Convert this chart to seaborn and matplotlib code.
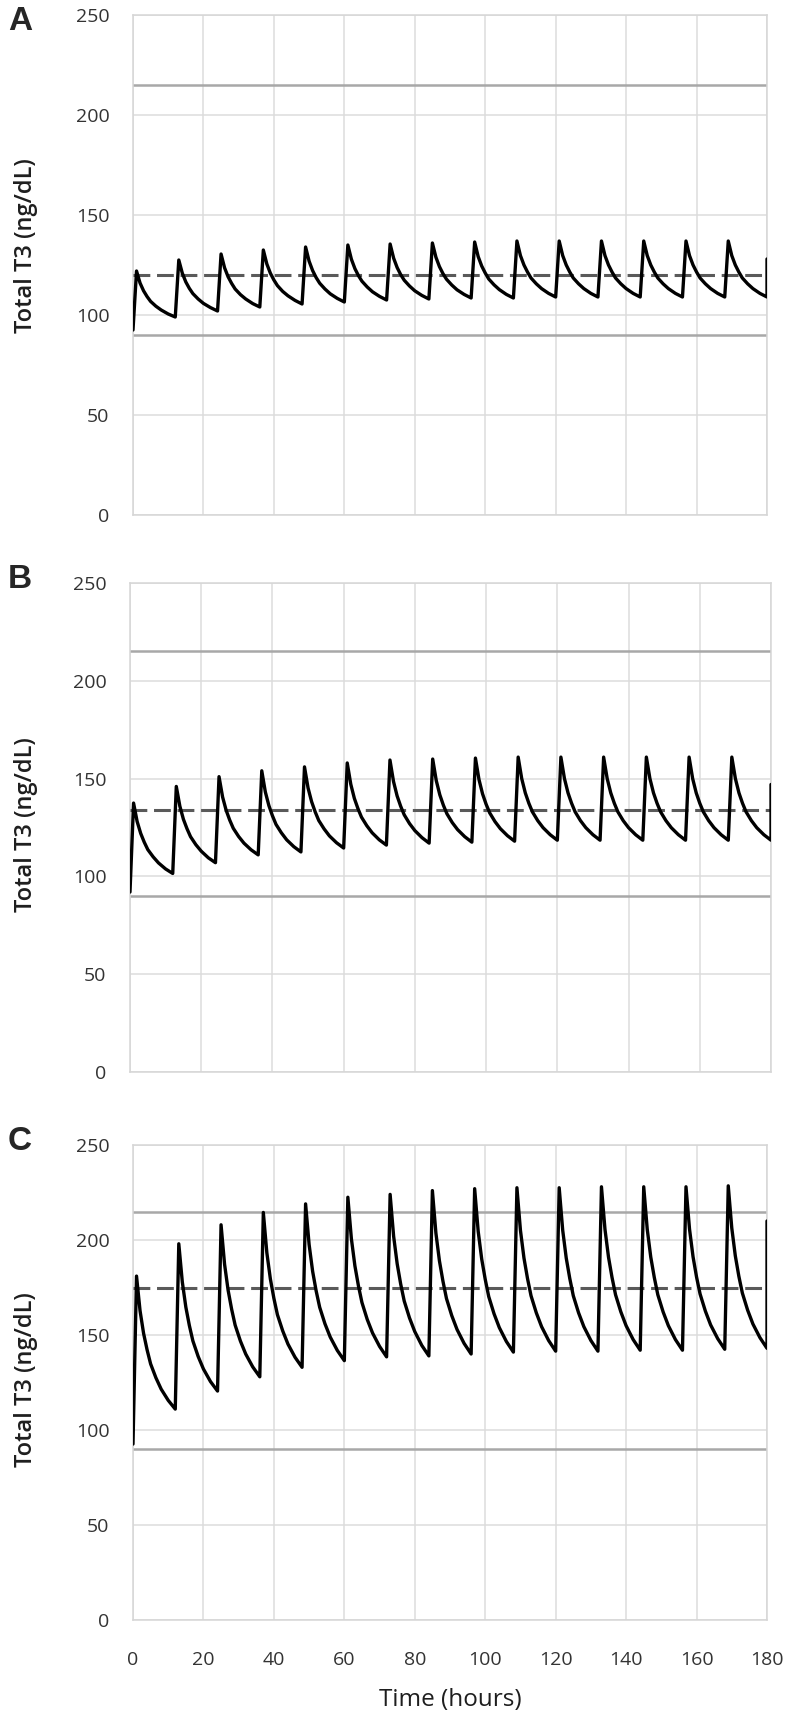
import pandas as pd
import matplotlib.pyplot as plt
import seaborn as sns

# dosing every 12 h; values sampled at these offsets (h) after each dose
dose_hours = [0, 12, 24, 36, 48, 60, 72, 84, 96, 108, 120, 132, 144, 156, 168]
sample_offsets = [0, 1, 2, 3, 4, 5, 6.5, 8, 10]
end_hour = 180

# Total T3 (ng/dL) per dosing cycle: [at dose, peak, +2h, +3h, +4h, +5h, +6.5h, +8h, +10h]
a_cycles = [
    [92.5, 122, 116, 112.1, 109.2, 106.8, 104.4, 102.5, 100.5],
    [99, 127.5, 120.9, 116.5, 113.3, 110.7, 108.0, 105.8, 103.7],
    [102, 130.5, 123.6, 119.1, 115.8, 113.0, 110.2, 108.0, 105.7],
    [104, 132.5, 125.5, 120.9, 117.5, 114.7, 111.8, 109.6, 107.3],
    [105.5, 134, 126.9, 122.2, 118.7, 115.9, 113.0, 110.6, 108.3],
    [106.5, 135, 127.9, 123.2, 119.7, 116.9, 114.0, 111.6, 109.3],
    [107.5, 135.5, 128.4, 123.7, 120.2, 117.4, 114.5, 112.1, 109.8],
    [108, 136, 128.9, 124.2, 120.7, 117.9, 115.0, 112.6, 110.3],
    [108.5, 136.5, 129.2, 124.5, 121.0, 118.0, 115.1, 112.7, 110.3],
    [108.5, 137, 129.7, 125.0, 121.5, 118.5, 115.6, 113.2, 110.8],
    [109, 137, 129.7, 125.0, 121.5, 118.5, 115.6, 113.2, 110.8],
    [109, 137, 129.7, 125.0, 121.5, 118.5, 115.6, 113.2, 110.8],
    [109, 137, 129.7, 125.0, 121.5, 118.5, 115.6, 113.2, 110.8],
    [109, 137, 129.7, 125.0, 121.5, 118.5, 115.6, 113.2, 110.8],
    [109, 137, 129.7, 125.0, 121.5, 118.5, 115.6, 113.2, 110.8],
]
a_end = [109, 128]

b_cycles = [
    [92, 137.5, 128.1, 122.0, 117.5, 113.7, 110.0, 106.9, 103.8],
    [101.5, 146, 135.9, 129.2, 124.4, 120.3, 116.2, 112.9, 109.5],
    [107, 151, 140.6, 133.8, 128.8, 124.6, 120.4, 117.0, 113.6],
    [111, 154, 143.2, 136.2, 131.0, 126.6, 122.3, 118.7, 115.2],
    [112.5, 156, 145.2, 138.2, 133.0, 128.6, 124.3, 120.7, 117.2],
    [114.5, 158, 147.1, 139.9, 134.7, 130.3, 125.9, 122.3, 118.7],
    [116, 159.5, 148.5, 141.2, 135.9, 131.5, 127.0, 123.4, 119.8],
    [117, 160, 149.0, 141.7, 136.4, 132.0, 127.5, 123.9, 120.3],
    [117.5, 160.5, 149.5, 142.2, 136.9, 132.5, 128.0, 124.4, 120.8],
    [118, 161, 150.0, 142.7, 137.4, 133.0, 128.5, 124.9, 121.3],
    [118.5, 161, 150.0, 142.7, 137.4, 133.0, 128.5, 124.9, 121.3],
    [118.5, 161, 150.0, 142.7, 137.4, 133.0, 128.5, 124.9, 121.3],
    [118.5, 161, 150.0, 142.7, 137.4, 133.0, 128.5, 124.9, 121.3],
    [118.5, 161, 150.0, 142.7, 137.4, 133.0, 128.5, 124.9, 121.3],
    [118.5, 161, 150.0, 142.7, 137.4, 133.0, 128.5, 124.9, 121.3],
]
b_end = [118.5, 147]

c_cycles = [
    [92.6, 181, 162.8, 150.9, 142.2, 134.8, 127.5, 121.5, 115.6],
    [111, 198, 177.9, 164.7, 155.0, 146.9, 138.7, 132.1, 125.5],
    [120.5, 208, 187.2, 173.6, 163.6, 155.2, 146.8, 140.0, 133.2],
    [128, 214.5, 193.3, 179.5, 169.3, 160.7, 152.2, 145.2, 138.3],
    [133, 219, 197.6, 183.5, 173.2, 164.6, 155.9, 148.9, 141.9],
    [136.5, 222.5, 200.7, 186.4, 175.9, 167.1, 158.2, 151.1, 144.0],
    [138.5, 224, 201.9, 187.5, 176.8, 167.9, 159.0, 151.8, 144.5],
    [139, 226, 203.6, 189.0, 178.3, 169.2, 160.2, 152.9, 145.6],
    [140, 227, 204.6, 190.0, 179.3, 170.2, 161.2, 153.9, 146.6],
    [141, 227.5, 205.1, 190.5, 179.8, 170.7, 161.7, 154.4, 147.1],
    [141.5, 227.5, 205.1, 190.5, 179.8, 170.7, 161.7, 154.4, 147.1],
    [141.5, 228, 205.6, 191.0, 180.3, 171.2, 162.2, 154.9, 147.6],
    [142, 228, 205.6, 191.0, 180.3, 171.2, 162.2, 154.9, 147.6],
    [142, 228, 205.8, 191.2, 180.5, 171.6, 162.6, 155.3, 148.1],
    [142.5, 228.5, 206.3, 191.7, 181.0, 172.1, 163.1, 155.8, 148.6],
]
c_end = [143, 210]

panel_labels = ['A', 'B', 'C']
target_levels = [120, 134, 175]   # dashed line
range_limits = [90, 215]          # solid gray reference lines
y_ticks = [0, 50, 100, 150, 200, 250]
x_ticks = [0, 20, 40, 60, 80, 100, 120, 140, 160, 180]


def to_frame(cycles, end_vals):
    rows = []
    for dose, vals in zip(dose_hours, cycles):
        for off, v in zip(sample_offsets, vals):
            rows.append((dose + off, v))
    for v in end_vals:
        rows.append((end_hour, v))
    return pd.DataFrame(rows, columns=['hours', 't3'])


frames = [to_frame(a_cycles, a_end), to_frame(b_cycles, b_end), to_frame(c_cycles, c_end)]

sns.set_style('white')
plt.rcParams['font.family'] = ['Open Sans', 'DejaVu Sans']

W, H = 792, 1720
fig = plt.figure(figsize=(W / 100, H / 100), dpi=100)

# axes boxes in pixels: left, top, right, bottom
boxes_px = [(133, 15, 767, 515), (130, 583, 771, 1072), (133, 1145, 767, 1620)]
ylabel_center_px = [246, 825, 1380]
letter_top_px = [6, 564, 1126]

for i, df in enumerate(frames):
    l, t, r, b = boxes_px[i]
    ax = fig.add_axes([l / W, 1 - b / H, (r - l) / W, (b - t) / H])
    ax.grid(True, color='#dcdcdc', linewidth=1.1)
    ax.set_axisbelow(True)
    for lvl in range_limits:
        ax.axhline(lvl, color='#a8a8a8', linewidth=1.8, zorder=2)
    ax.axhline(target_levels[i], color='#5a5a5a', linewidth=2.2,
               linestyle=(0, (5.5, 2.2)), zorder=3)
    sns.lineplot(data=df, x='hours', y='t3', sort=False, estimator=None,
                 color='black', linewidth=2.4, ax=ax, zorder=4)
    for line in ax.get_lines()[-1:]:
        line.set_solid_joinstyle('round')
    ax.set_xlim(0, 180)
    ax.set_ylim(0, 250)
    ax.set_yticks(y_ticks)
    ax.set_xticks(x_ticks)
    for s in ax.spines.values():
        s.set_color('#d6d6d6')
        s.set_linewidth(1.1)
    ax.tick_params(axis='both', length=0, labelsize=14, labelcolor='#333333')
    ax.tick_params(axis='y', pad=17)
    for lab in ax.get_xticklabels() + ax.get_yticklabels():
        lab.set_fontweight('medium')
    ax.set_ylabel('')
    if i < 2:
        ax.set_xlabel('')
        ax.tick_params(axis='x', labelbottom=False)
    else:
        ax.tick_params(axis='x', pad=22)
        ax.set_xlabel('Time (hours)', fontsize=17.5, color='#1e1e1e', labelpad=14)
    fig.text(26 / W, 1 - ylabel_center_px[i] / H, 'Total T3 (ng/dL)',
             rotation=90, ha='center', va='center', fontsize=17,
             fontweight='semibold', color='#1e1e1e')
    fig.text(8 / W, 1 - letter_top_px[i] / H, panel_labels[i],
             fontsize=24, fontweight='bold', family='Liberation Sans',
             va='top', ha='left')

fig.savefig('out.png', dpi=100)
